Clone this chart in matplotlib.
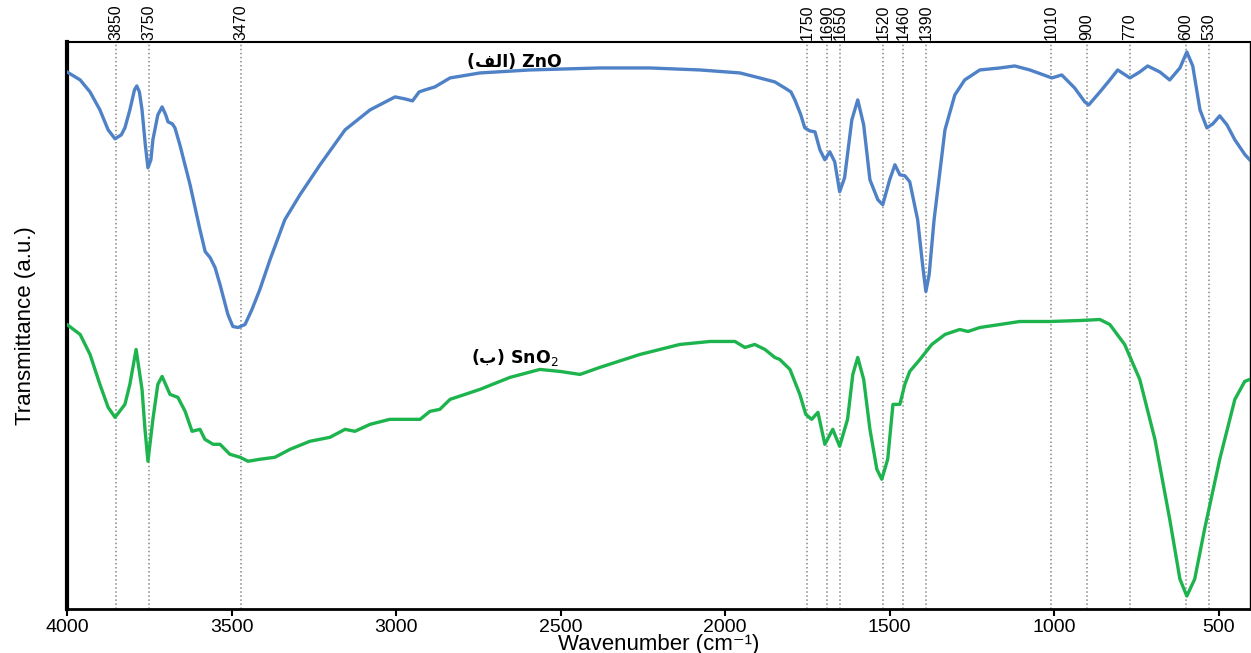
import matplotlib
matplotlib.use("Agg")
import matplotlib.pyplot as plt
from matplotlib import font_manager

# FT-IR spectra (transmittance in arbitrary units)
zno_wn = [4000, 3960, 3930, 3900, 3875, 3854, 3835, 3824, 3809, 3795, 3788, 3780,
          3772, 3762, 3754, 3745, 3739, 3724, 3711, 3700, 3693, 3680, 3672, 3657,
          3626, 3596, 3580, 3565, 3550, 3535, 3511, 3496, 3480, 3459, 3438, 3414,
          3383, 3338, 3292, 3231, 3155, 3079, 3003, 2973, 2950, 2930, 2912, 2882,
          2836, 2745, 2593, 2381, 2229, 2077, 1955, 1895, 1849, 1819, 1800, 1788,
          1770, 1758, 1743, 1727, 1712, 1697, 1682, 1667, 1652, 1637, 1615, 1597,
          1579, 1560, 1536, 1521, 1500, 1484, 1469, 1454, 1439, 1415, 1400, 1390,
          1380, 1365, 1354, 1332, 1302, 1272, 1226, 1165, 1120, 1074, 1007, 977,
          938, 907, 895, 861, 831, 807, 770, 740, 716, 679, 649, 618, 597, 579,
          557, 536, 518, 497, 475, 451, 420, 406]
zno_t = [538, 530, 518, 500, 480, 471, 475, 482, 500, 520, 524, 518,
         500, 465, 442, 450, 470, 495, 503, 495, 488, 486, 482, 465,
         425, 380, 358, 352, 342, 325, 295, 283, 282, 285, 300, 320,
         350, 390, 415, 445, 480, 500, 513, 511, 509, 518, 520, 523,
         532, 537, 540, 542, 542, 540, 537, 532, 528, 522, 518, 510,
         495, 482, 479, 478, 460, 450, 458, 448, 418, 432, 490, 510,
         485, 430, 410, 405, 430, 445, 435, 434, 428, 390, 345, 318,
         335, 390, 420, 480, 515, 530, 540, 542, 544, 540, 532, 535,
         522, 508, 505, 518, 530, 540, 532, 538, 544, 538, 530, 542, 558, 544,
         500, 482, 486, 494, 485, 470, 455, 450]

sno2_wn = [4000, 3960, 3930, 3900, 3875, 3854, 3824, 3809, 3790, 3772, 3763, 3754,
           3739, 3724, 3711, 3687, 3663, 3641, 3620, 3596, 3581, 3556, 3535, 3505,
           3474, 3450, 3414, 3368, 3322, 3262, 3201, 3155, 3125, 3079, 3019, 2973,
           2927, 2897, 2867, 2836, 2745, 2654, 2563, 2502, 2441, 2381, 2259, 2138,
           2046, 1970, 1940, 1910, 1879, 1849, 1834, 1803, 1773, 1755, 1737, 1718,
           1697, 1673, 1652, 1628, 1612, 1597, 1579, 1560, 1539, 1524, 1506, 1490,
           1469, 1454, 1439, 1408, 1372, 1332, 1287, 1262, 1226, 1165, 1105, 1014,
           922, 861, 831, 786, 740, 694, 649, 618, 597, 573, 543, 497, 451, 421, 406]
sno2_t = [285, 275, 255, 225, 202, 192, 205, 225, 260, 220, 180, 148,
          190, 225, 233, 215, 212, 198, 178, 180, 170, 165, 165, 155,
          152, 148, 150, 152, 160, 168, 172, 180, 178, 185, 190, 190,
          190, 198, 200, 210, 220, 232, 240, 238, 235, 242, 255, 265,
          268, 268, 262, 265, 260, 252, 250, 240, 215, 195, 190, 197,
          165, 180, 163, 190, 235, 252, 230, 180, 140, 130, 150, 205,
          205, 225, 238, 250, 265, 275, 280, 278, 282, 285, 288, 288,
          289, 290, 285, 265, 230, 170, 90, 30, 13, 30, 80, 150, 210, 228, 230]

peak_marks = [3850, 3750, 3470, 1750, 1690, 1650, 1520, 1460, 1390,
              1010, 900, 770, 600, 530]
x_ticks = [4000, 3500, 3000, 2500, 2000, 1500, 1000, 500]

available = {f.name for f in font_manager.fontManager.ttflist}
narrow = "Liberation Sans Narrow" if "Liberation Sans Narrow" in available else "Liberation Sans"
plt.rcParams['font.family'] = ['Liberation Sans', 'DejaVu Sans']

fig = plt.figure(figsize=(12.51, 6.53), dpi=100)
ax = fig.add_axes([67 / 1251, 44 / 653, 1183 / 1251, 567 / 653])

# dotted reference lines with their labels above the frame
for wn in peak_marks:
    ax.axvline(wn, color='#888888', linestyle=':', linewidth=1.1, zorder=1)
    ax.text(wn, 1.004, str(wn), transform=ax.get_xaxis_transform(),
            rotation=90, ha='center', va='bottom', fontsize=11.5,
            family=narrow, color='black')

ax.plot(zno_wn, zno_t, color='#4F81C7', linewidth=2.4, zorder=3)
ax.plot(sno2_wn, sno2_t, color='#1DB44E', linewidth=2.4, zorder=3)

ax.text(2640, 548, "(\ufed2\ufedf\ufe8d) ZnO", ha='center', va='center',
        fontsize=12.5, family=['DejaVu Sans'], fontweight='bold')
ax.text(2640, 252, "(\ufe8f) SnO$_2$", ha='center', va='center',
        fontsize=12.5, family=['DejaVu Sans'], fontweight='bold')

ax.set_xlim(4000, 405)
ax.set_ylim(0, 568)
ax.set_xticks(x_ticks)
ax.set_xticklabels([str(t) for t in x_ticks], fontsize=14)
ax.set_yticks([])
ax.tick_params(axis='x', direction='out', length=5, width=1.5, pad=2)

ax.spines['left'].set_linewidth(3)
ax.spines['bottom'].set_linewidth(2)
ax.spines['top'].set_linewidth(1.5)
ax.spines['right'].set_linewidth(1)

ax.set_xlabel("Wavenumber (cm\u207b\u00b9)", fontsize=16, labelpad=-1)
ax.set_ylabel("Transmittance (a.u.)", fontsize=16, family=narrow, labelpad=22)

fig.savefig("out.png", dpi=100)
